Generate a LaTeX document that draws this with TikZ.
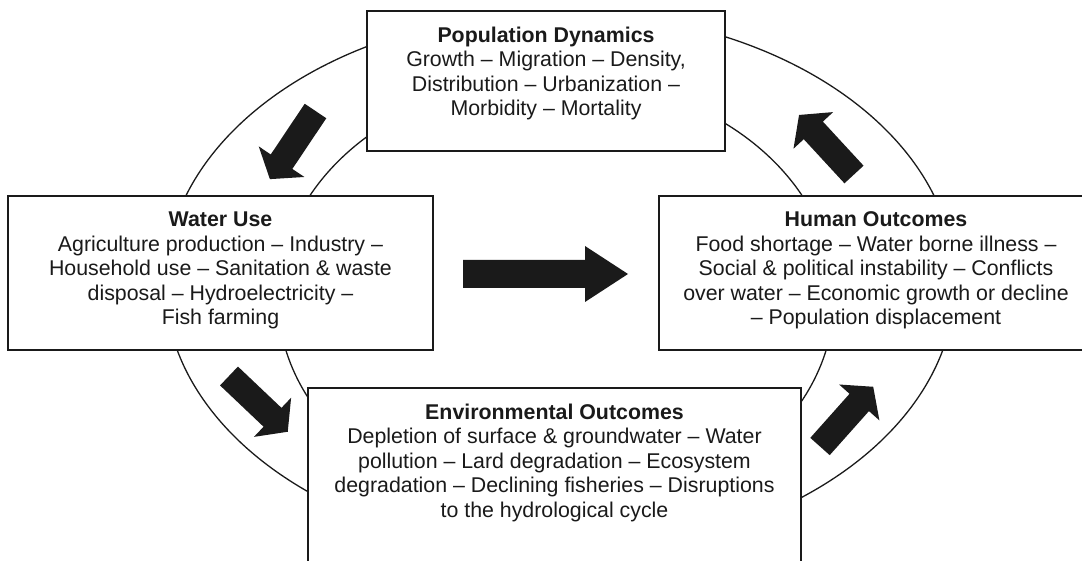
\documentclass[tikz,border=0pt]{standalone}
\usepackage{fontspec}
\setmainfont{Liberation Sans}
\definecolor{ink}{HTML}{1A1A1A}
\tikzset{
  boxline/.style={draw=ink, line width=0.9pt, fill=white},
  ring/.style={draw=ink, line width=0.65pt},
  boxtext/.style={font=\fontsize{10.67pt}{12.25pt}\selectfont, align=center,
    inner sep=0pt, anchor=north, text=ink},
  blockarrow/.style={fill=ink}
}
\begin{document}
\begin{tikzpicture}[x=0.5pt,y=-0.5pt]
        \useasboundingbox (0,0) rectangle (1082,561);
        % the two rings of the cycle
        \draw[ring] (560,283) ellipse [x radius=395, y radius=271];
        \draw[ring] (556,298) ellipse [x radius=278, y radius=220];
        % boxes, drawn over the rings
        \draw[boxline] (367,11) rectangle (725,151);
        \draw[boxline] (8,196) rectangle (433,350);
        \draw[boxline] (659,196) rectangle (1095,350);
        \draw[boxline] (308,388) rectangle (801,575);
        \node[boxtext] (pop) at (546,26.5) {\textbf{Population Dynamics}\\
            Growth – Migration – Density,\\
            Distribution – Urbanization –\\
            Morbidity – Mortality};
        \node[boxtext] (water) at (220.5,211.5) {\textbf{Water Use}\\
            Agriculture production – Industry –\\
            Household use – Sanitation \& waste\\
            disposal – Hydroelectricity –\\
            Fish farming};
        \node[boxtext] (human) at (876,211.5) {\textbf{Human Outcomes}\\
            Food shortage – Water borne illness –\\
            Social \& political instability – Conflicts\\
            over water – Economic growth or decline\\
            – Population displacement};
        \node[boxtext] (env) at (554.5,403.5) {\textbf{Environmental Outcomes}\\
            Depletion of surface \& groundwater – Water\\
            pollution – Lard degradation – Ecosystem\\
            degradation – Declining fisheries – Disruptions\\
            to the hydrological cycle};
        % block arrows: tail x/y, angle, length, head length, head and shaft half widths
        \foreach \x/\y/\a/\l/\h/\w/\s in {315.5/111/236.2/82/21/27.5/13,
                229/376/-43.5/81/21/27/13, 463/274/0/165/43/28/14,
                820/446.5/48.3/80/21/27/13, 854/174.5/132.7/81/21/27/13}
            \fill[blockarrow, shift={(\x,\y)}, rotate=\a] (0,-\s) -- ({\l-\h},-\s)
                -- ({\l-\h},-\w) -- (\l,0) -- ({\l-\h},\w) -- ({\l-\h},\s) -- (0,\s) -- cycle;
\end{tikzpicture}
\end{document}
